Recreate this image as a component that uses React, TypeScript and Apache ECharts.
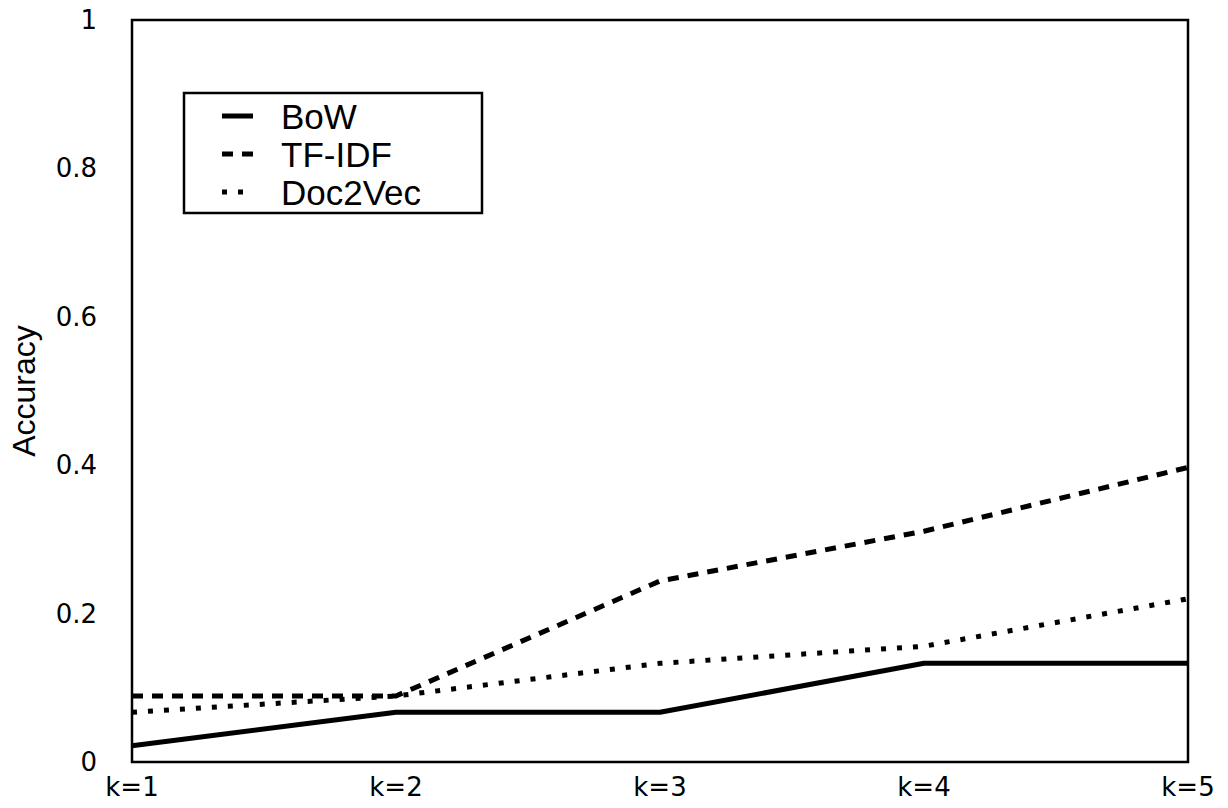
import React, { useEffect, useRef } from "react";
import * as echarts from "echarts";

const categories = ["k=1", "k=2", "k=3", "k=4", "k=5"];
const bowValues = [0.022, 0.067, 0.067, 0.133, 0.133];
const tfidfValues = [0.089, 0.089, 0.244, 0.311, 0.397];
const doc2vecValues = [0.067, 0.089, 0.133, 0.156, 0.22];
const seriesNames = ["BoW", "TF-IDF", "Doc2Vec"];
const dashPatterns: any[] = [null, [11, 9], [5, 11]];

export default function App() {
  const ref = useRef<HTMLDivElement>(null);
  useEffect(() => {
    document.body.style.margin = "0";
    const chart = echarts.init(ref.current!, null, { renderer: "svg" });
    const tickFont = "'DejaVu Sans', sans-serif";
    const textFont = "'Liberation Sans', Arial, sans-serif";
    const mk = (name: string, data: number[], type: any) => ({
      name,
      type: "line",
      data,
      symbol: "none",
      lineStyle: { color: "#000", width: 5, type, cap: "butt" },
      itemStyle: { color: "#000" },
    });
    const legendRows = [116, 154, 192];
    const legendGraphics: any[] = [
      {
        type: "rect",
        shape: { x: 184, y: 93, width: 298, height: 120 },
        style: { fill: "#fff", stroke: "#000", lineWidth: 2.5 },
        z: 100,
      },
    ];
    seriesNames.forEach((n, i) => {
      legendGraphics.push({
        type: "line",
        shape: { x1: 222, y1: legendRows[i], x2: 253, y2: legendRows[i] },
        style: {
          stroke: "#000",
          lineWidth: 5,
          lineDash: dashPatterns[i] || undefined,
          lineCap: "butt",
        },
        z: 101,
      });
      legendGraphics.push({
        type: "text",
        x: 281,
        y: legendRows[i],
        style: {
          text: n,
          font: `35px ${textFont}`,
          fill: "#000",
          textVerticalAlign: "middle",
          verticalAlign: "middle",
        },
        z: 101,
      });
    });
    chart.setOption({
      animation: false,
      backgroundColor: "#fff",
      grid: {
        left: 132,
        right: 40,
        top: 20,
        bottom: 46,
        show: true,
        borderColor: "#000",
        borderWidth: 2.5,
        backgroundColor: "transparent",
        containLabel: false,
        outerBoundsMode: "none",
      },
      graphic: legendGraphics,
      xAxis: {
        type: "category",
        data: categories,
        boundaryGap: false,
        axisLine: { show: false },
        axisTick: { show: false },
        splitLine: { show: false },
        axisLabel: {
          color: "#000",
          fontSize: 26,
          fontFamily: tickFont,
          margin: 12,
          showMinLabel: true,
          showMaxLabel: true,
          interval: 0,
        },
      },
      yAxis: {
        type: "value",
        min: 0,
        max: 1,
        interval: 0.2,
        name: "Accuracy",
        nameLocation: "middle",
        nameGap: 92,
        nameTextStyle: { color: "#000", fontSize: 32, fontFamily: textFont },
        axisLine: { show: false },
        axisTick: { show: false },
        splitLine: { show: false },
        axisLabel: {
          color: "#000",
          fontSize: 26,
          fontFamily: tickFont,
          margin: 35,
        },
      },
      series: [
        mk(seriesNames[0], bowValues, "solid"),
        mk(seriesNames[1], tfidfValues, dashPatterns[1]),
        mk(seriesNames[2], doc2vecValues, dashPatterns[2]),
      ],
    });
    return () => chart.dispose();
  }, []);
  return <div ref={ref} style={{ width: 1228, height: 808 }} />;
}
